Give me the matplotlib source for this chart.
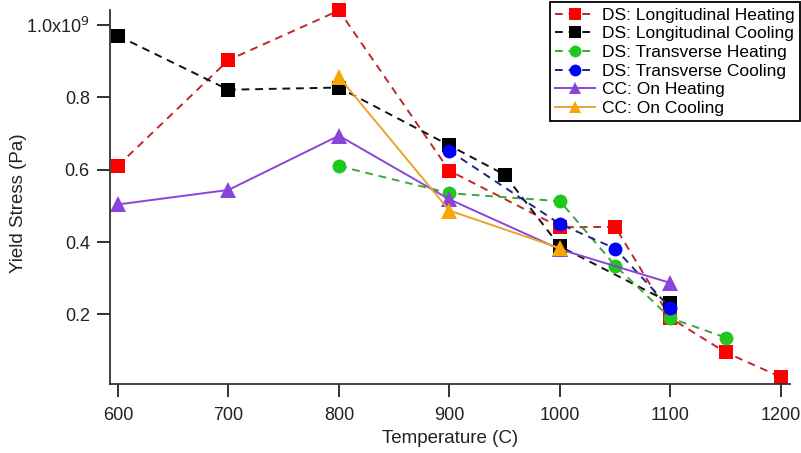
import matplotlib
matplotlib.use("Agg")
import matplotlib.pyplot as plt
from matplotlib.ticker import FuncFormatter, FixedLocator

plt.rcParams['font.family'] = ['Liberation Sans', 'DejaVu Sans']

# Yield stress in Pa versus temperature in C
ds_long_heat_T = [600, 700, 800, 900, 1000, 1050, 1100, 1150, 1200]
ds_long_heat_Y = [0.611e9, 0.903e9, 1.040e9, 0.597e9, 0.441e9, 0.442e9, 0.190e9, 0.095e9, 0.027e9]

ds_long_cool_T = [600, 700, 800, 900, 950, 1000, 1100]
ds_long_cool_Y = [0.970e9, 0.821e9, 0.827e9, 0.667e9, 0.586e9, 0.388e9, 0.232e9]

ds_trans_heat_T = [800, 900, 1000, 1050, 1100, 1150]
ds_trans_heat_Y = [0.610e9, 0.535e9, 0.513e9, 0.335e9, 0.190e9, 0.136e9]

ds_trans_cool_T = [900, 1000, 1050, 1100]
ds_trans_cool_Y = [0.652e9, 0.450e9, 0.382e9, 0.217e9]

cc_heat_T = [600, 700, 800, 900, 1000, 1100]
cc_heat_Y = [0.504e9, 0.544e9, 0.694e9, 0.518e9, 0.380e9, 0.287e9]

cc_cool_T = [800, 900, 1000]
cc_cool_Y = [0.856e9, 0.487e9, 0.383e9]

fig = plt.figure(figsize=(8.01, 4.53), dpi=100)
ax = fig.add_axes([0.1373, 0.1517, 0.8487, 0.8263])

dash = (0, (4, 3))
ms = 10
common = dict(clip_on=False, linewidth=1.4, markeredgewidth=0)

ax.plot(ds_long_heat_T, ds_long_heat_Y, linestyle=dash, color='#c0282a',
        marker='s', markersize=ms, markerfacecolor='#ff0000',
        label='DS: Longitudinal Heating', **common)
ax.plot(ds_long_cool_T, ds_long_cool_Y, linestyle=dash, color='#111111',
        marker='s', markersize=ms, markerfacecolor='#000000',
        label='DS: Longitudinal Cooling', **common)
ax.plot(ds_trans_heat_T, ds_trans_heat_Y, linestyle=dash, color='#3aa83a',
        marker='o', markersize=ms, markerfacecolor='#1ec81e',
        label='DS: Transverse Heating', **common)
ax.plot(ds_trans_cool_T, ds_trans_cool_Y, linestyle=dash, color='#1a2a8a',
        marker='o', markersize=ms, markerfacecolor='#0000ff',
        label='DS: Transverse Cooling', **common)
ax.plot(cc_heat_T, cc_heat_Y, linestyle='-', color='#8a44dc',
        marker='^', markersize=ms + 1, markerfacecolor='#8a44dc',
        label='CC: On Heating', **common)
ax.plot(cc_cool_T, cc_cool_Y, linestyle='-', color='#e8a52a',
        marker='^', markersize=ms + 1, markerfacecolor='#f5a800',
        label='CC: On Cooling', **common)

ax.set_xlim(592.8, 1208)
ax.set_ylim(0.007e9, 1.0414e9)

ax.xaxis.set_major_locator(FixedLocator([600, 700, 800, 900, 1000, 1100, 1200]))
ax.yaxis.set_major_locator(FixedLocator([0.2e9, 0.4e9, 0.6e9, 0.8e9, 1.0e9]))


def ylabel_fmt(v, pos):
    if abs(v - 1.0e9) < 1:
        return r'1.0x10$^{9}$'
    return f'{v / 1e9:.1f}'


ax.yaxis.set_major_formatter(FuncFormatter(ylabel_fmt))

for side in ('top', 'right'):
    ax.spines[side].set_visible(False)
for side in ('left', 'bottom'):
    ax.spines[side].set_color('#333333')
    ax.spines[side].set_linewidth(1.3)

ax.tick_params(axis='both', direction='out', length=9.5, width=1.3,
               color='#222222', labelsize=13, labelcolor='#222222')
ax.tick_params(axis='y', pad=5)
ax.tick_params(axis='x', pad=7)

ax.set_xlabel('Temperature (C)', fontsize=13.5, color='#222222')
ax.set_ylabel('Yield Stress (Pa)', fontsize=13.5, color='#222222')
ax.yaxis.set_label_coords(-0.122, 0.484)
ax.xaxis.set_label_coords(0.5, -0.122)

leg = ax.legend(loc='upper right', bbox_to_anchor=(1.015, 1.02),
                fontsize=12.5, frameon=True, fancybox=False, shadow=False,
                handlelength=2.3, handletextpad=0.4, labelspacing=0.2,
                borderpad=0.3, borderaxespad=0.0, markerscale=0.85)
leg.get_frame().set_edgecolor('#000000')
leg.get_frame().set_linewidth(1.3)
leg.get_frame().set_alpha(1)

fig.savefig('out.png', dpi=100)
